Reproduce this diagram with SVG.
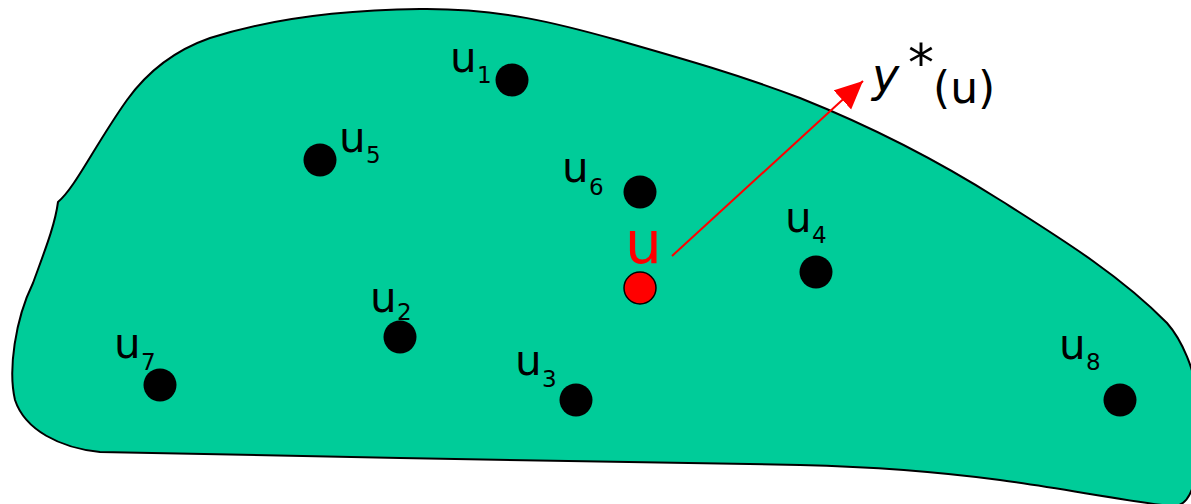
<svg xmlns="http://www.w3.org/2000/svg" width="1191" height="504" viewBox="0 0 1191 504">
<style>
.blob{fill:#00CC99;stroke:#000;stroke-width:2}
.dot{fill:#000}
.lbl{font-family:"DejaVu Sans",sans-serif;font-size:42px;fill:#000}
.sub{font-family:"DejaVu Sans",sans-serif;font-size:23px;fill:#000}
.ttl{font-family:"DejaVu Sans",sans-serif;fill:#000}
</style>
<defs>
<marker id="ah" markerWidth="30" markerHeight="28" refX="28" refY="13" orient="auto" markerUnits="userSpaceOnUse">
<path d="M0,0 L28,13 L0,26 Z" fill="#FF0000"/>
</marker>
</defs>
<g id="region">
<path class="blob" d="M58,202 C75,188 95,145 127,100 C145,75 170,52 210,38 C260,22 330,10 420,9 C500,8 560,24 617,40 C680,58 740,75 800,98 C870,126 940,162 1000,200 C1060,238 1120,275 1167,323 C1182,340 1195,370 1198,400 C1200,460 1198,510 1170,506 C1120,500 1060,488 1000,480 C940,472 880,467 800,465 L400,458 C300,456 200,454 100,452 C60,448 25,430 15,400 C8,370 15,320 33,283 C45,250 55,225 58,202 Z"/>
</g>
<g id="connectors">
<line x1="672" y1="256" x2="863" y2="81" stroke="#FF0000" stroke-width="2" marker-end="url(#ah)"/>
</g>
<g id="n1"><circle class="dot" cx="512" cy="80" r="16.5"/><text class="lbl" x="450" y="72">u</text><text class="sub" x="477" y="83">1</text></g>
<g id="n2"><circle class="dot" cx="400" cy="337" r="16.5"/><text class="lbl" x="370" y="312">u</text><text class="sub" x="397" y="320">2</text></g>
<g id="n3"><circle class="dot" cx="576" cy="400" r="16.5"/><text class="lbl" x="515" y="375">u</text><text class="sub" x="542" y="387">3</text></g>
<g id="n4"><circle class="dot" cx="816" cy="272" r="16.5"/><text class="lbl" x="785" y="232">u</text><text class="sub" x="812" y="243">4</text></g>
<g id="n5"><circle class="dot" cx="320" cy="160" r="16.5"/><text class="lbl" x="339" y="152">u</text><text class="sub" x="366" y="163">5</text></g>
<g id="n6"><circle class="dot" cx="640" cy="192" r="16.5"/><text class="lbl" x="562" y="182">u</text><text class="sub" x="589" y="195">6</text></g>
<g id="n7"><circle class="dot" cx="160" cy="385" r="16.5"/><text class="lbl" x="114" y="358">u</text><text class="sub" x="141" y="370">7</text></g>
<g id="n8"><circle class="dot" cx="1120" cy="400" r="16.5"/><text class="lbl" x="1059" y="359">u</text><text class="sub" x="1086" y="370">8</text></g>
<g id="nu"><circle cx="640" cy="288" r="16" fill="#FF0000" stroke="#000" stroke-width="1.5"/><text x="625" y="263" font-family="DejaVu Sans, sans-serif" font-size="58" fill="#FF0000">u</text></g>
<g id="ystar"><text class="ttl" x="872" y="91" font-size="46" font-style="italic">y</text><text class="ttl" x="908" y="81" font-size="52">*</text><text class="ttl" x="933" y="103" font-size="44">(u)</text></g>
</svg>
